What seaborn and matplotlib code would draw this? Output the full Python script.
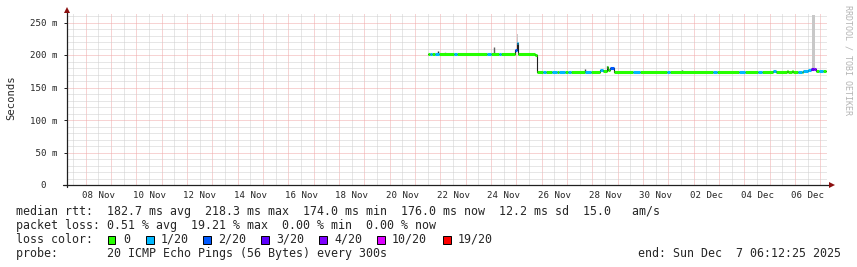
import matplotlib
matplotlib.use("Agg")
import matplotlib.pyplot as plt
import matplotlib.patches as mpatches
import pandas as pd
import seaborn as sns

# ---------------- data ----------------
YEAR = "2025"
axis_start = "11-07 06:12:25"
axis_end = "12-07 06:12:25"

# median RTT as constant steps: start time, value (ms), loss bucket
seg_start = [
    "11-21 12:00", "11-21 14:00", "11-21 16:00", "11-21 19:00", "11-21 22:30",
    "11-22 13:00", "11-22 15:30", "11-23 19:45", "11-23 23:30", "11-24 07:30",
    "11-24 09:30", "11-24 23:00", "11-25 00:30", "11-25 01:30", "11-25 17:30",
    "11-25 19:45", "11-26 01:00", "11-26 04:00", "11-26 09:30", "11-26 14:00",
    "11-26 16:30", "11-26 22:00", "11-27 01:00", "11-27 03:30", "11-27 17:00",
    "11-27 23:00", "11-28 07:00", "11-28 10:00", "11-28 13:30", "11-28 15:00",
    "11-28 17:00", "11-28 20:00", "11-29 14:30", "11-29 21:00", "11-30 22:30",
    "12-01 01:30", "12-02 18:00", "12-02 22:00", "12-03 19:00", "12-04 00:30",
    "12-04 12:45", "12-04 16:30", "12-05 03:00", "12-05 05:45", "12-05 16:00",
    "12-05 17:00", "12-05 21:00", "12-05 22:00", "12-06 02:30", "12-06 06:30",
    "12-06 07:30", "12-06 12:00", "12-06 15:30", "12-06 17:30", "12-06 19:30",
    "12-06 22:30", "12-07 02:30",
]
series_end = "12-07 05:30"
seg_rtt = [
    201.5, 201.5, 201.5, 201.5, 201.5,
    201.5, 201.5, 201.5, 201.5, 201.5,
    201.5, 207.0, 218.3, 201.5, 200.5,
    174.5, 174.0, 174.5, 174.5, 174.5,
    174.5, 174.5, 174.5, 174.5, 174.5,
    174.5, 177.0, 175.5, 181.5, 176.5,
    180.0, 174.5, 174.5, 174.5, 174.5,
    174.5, 174.5, 174.5, 174.5, 174.5,
    174.5, 174.5, 175.0, 174.5, 175.5,
    174.5, 175.5, 174.5, 174.5, 174.5,
    176.0, 177.0, 178.5, 178.5, 176.0,
    176.0, 176.0,
]
seg_loss = [
    "0", "1/20", "0", "1/20", "0",
    "1/20", "0", "1/20", "0", "1/20",
    "0", "2/20", "1/20", "0", "0",
    "0", "1/20", "0", "1/20", "0",
    "1/20", "0", "1/20", "0", "1/20",
    "0", "1/20", "0", "0", "0",
    "2/20", "0", "1/20", "0", "1/20",
    "0", "1/20", "0", "1/20", "0",
    "1/20", "0", "1/20", "0", "0",
    "0", "0", "0", "1/20", "0",
    "1/20", "1/20", "3/20", "4/20", "0",
    "1/20", "0",
]

# smoke (spread of individual pings)
smoke_start = ["11-25 00:45", "12-06 16:00"]
smoke_end = ["11-25 01:30", "12-06 18:50"]
smoke_lo = [218.3, 179.0]
smoke_hi = [233.0, 261.5]

# single short outliers
spike_time = ["11-21 22:00", "11-22 04:30", "11-24 03:00", "11-27 17:00", "11-28 14:00", "12-01 12:30"]
spike_lo = [201.5, 201.5, 201.5, 174.5, 181.5, 174.5]
spike_hi = [206.0, 205.0, 213.0, 178.0, 183.5, 176.5]
spike_shade = ["#303030", "#b8b8b8", "#606060", "#404040", "#202020", "#303030"]

loss_labels = ["0", "1/20", "2/20", "3/20", "4/20", "10/20", "19/20"]
loss_colors = ["#26ff00", "#00b8ff", "#0059ff", "#5e00ff", "#7e00ff", "#dd00ff", "#ff0000"]

ytick_values = [0, 50, 100, 150, 200, 250]
ytick_labels = ["  0", " 50 m", "100 m", "150 m", "200 m", "250 m"]
xtick_labels = ["08 Nov", "10 Nov", "12 Nov", "14 Nov", "16 Nov", "18 Nov", "20 Nov",
                "22 Nov", "24 Nov", "26 Nov", "28 Nov", "30 Nov", "02 Dec", "04 Dec", "06 Dec"]

stat_rtt = "median rtt:  182.7 ms avg  218.3 ms max  174.0 ms min  176.0 ms now  12.2 ms sd  15.0   am/s"
stat_loss = "packet loss: 0.51 % avg  19.21 % max  0.00 % min  0.00 % now"
probe_text = "probe:       20 ICMP Echo Pings (56 Bytes) every 300s"
end_text = "end: Sun Dec  7 06:12:25 2025"
watermark = "RRDTOOL / TOBI OETIKER"


def ts(s):
    return pd.to_datetime(YEAR + "-" + s)


# ---------------- build frames ----------------
starts = [ts(s) for s in seg_start]
ends = starts[1:] + [ts(series_end)]
rows = []
for i, (a, b, v, l) in enumerate(zip(starts, ends, seg_rtt, seg_loss)):
    rows.append({"seg": i, "t": a, "rtt": v, "loss": l})
    rows.append({"seg": i, "t": b, "rtt": v, "loss": l})
seg_df = pd.DataFrame(rows)
step_df = pd.DataFrame({"t": starts + [ts(series_end)], "rtt": seg_rtt + [seg_rtt[-1]]})

# ---------------- figure ----------------
W, H = 857, 267
sns.set_style("white")
plt.rcParams["font.family"] = ["DejaVu Sans Mono"]
fig = plt.figure(figsize=(W / 100, H / 100), dpi=100)
fig.patch.set_facecolor("white")

L, R, B, T = 67, 827, 185, 13
ax = fig.add_axes([L / W, (H - B) / H, (R - L) / W, (B - T) / H])
ax.set_facecolor("white")

x0, x1 = ts(axis_start), ts(axis_end)
ymax = (B - T) / 0.65
ax.set_xlim(x0, x1)
ax.set_ylim(0, ymax)

# grid
grid_dash = (0, (1, 1))
minor_col, major_col = "#cfcfcf", "#f0a8a8"
days = pd.date_range(ts("11-08 00:00"), ts("12-07 00:00"), freq="D")
noons = pd.date_range(ts("11-07 12:00"), ts("12-06 12:00"), freq="D")
ax.vlines(noons, 0, ymax, colors=minor_col, linestyles=grid_dash, lw=0.72, zorder=0)
ax.vlines(days, 0, ymax, colors=major_col, linestyles=grid_dash, lw=0.72, zorder=0)
minor_y = [v for v in range(10, 265, 10) if v % 50]
ax.hlines(minor_y, x0, x1, colors=minor_col, linestyles=grid_dash, lw=0.72, zorder=0)
ax.hlines([50, 100, 150, 200, 250], x0, x1, colors=major_col, linestyles=grid_dash, lw=0.72, zorder=0)

# smoke
for a, b, lo, hi in zip(smoke_start, smoke_end, smoke_lo, smoke_hi):
    ax.fill_between([ts(a), ts(b)], [lo, lo], [hi, hi], color="#c8c8c8", lw=0, zorder=1)
ax.vlines([ts(s) for s in spike_time], spike_lo, spike_hi, colors=spike_shade, lw=1.0, zorder=2)

# median: dark connector then loss-coloured thick line
sns.lineplot(data=step_df, x="t", y="rtt", estimator=None, drawstyle="steps-post",
             color="#202020", linewidth=0.8, ax=ax, zorder=3)
sns.lineplot(data=seg_df, x="t", y="rtt", hue="loss", units="seg", estimator=None,
             hue_order=loss_labels, palette=dict(zip(loss_labels, loss_colors)),
             linewidth=2.2, legend=False, ax=ax, zorder=4, solid_capstyle="butt")

ax.set_xlabel("")
ax.set_ylabel("")
for s in ax.spines.values():
    s.set_visible(False)

# axes lines and arrows
ax.plot([0, 0], [-2 / (B - T), 1 + 2 / (B - T)], transform=ax.transAxes, color="#202020",
        lw=0.9, clip_on=False, zorder=5)
ax.plot([-4 / (R - L), 1 + 3 / (R - L)], [0, 0], transform=ax.transAxes, color="#202020",
        lw=0.9, clip_on=False, zorder=5)
ax.plot([0], [1 + 3.5 / (B - T)], marker="^", ms=4.5, color="#8b0f0f", transform=ax.transAxes,
        clip_on=False, zorder=6, mew=0)
ax.plot([1 + 5 / (R - L)], [0], marker=">", ms=4.5, color="#8b0f0f", transform=ax.transAxes,
        clip_on=False, zorder=6, mew=0)

# y ticks
ax.set_yticks(ytick_values)
ax.set_yticklabels(ytick_labels)
ax.tick_params(axis="y", direction="out", length=2.5, width=0.7, color="#202020",
               labelsize=6.6, pad=(L - 30) * 0.72 - 2.5, left=True)
for lab in ax.get_yticklabels():
    lab.set_horizontalalignment("left")
    lab.set_fontfamily("DejaVu Sans Mono")

# x labels at noon of labelled days
ax.set_xticks([])
for lbl in xtick_labels:
    pos = pd.to_datetime(YEAR + " " + lbl, format="%Y %d %b") + pd.Timedelta(hours=12)
    ax.text(pos, -(198.5 - B) / (B - T), lbl, transform=ax.get_xaxis_transform(),
            ha="center", va="baseline", fontsize=6.6, family="DejaVu Sans Mono")

# y axis title & watermark
fig.text(11 / W, 1 - 98 / H, "Seconds", rotation=90, ha="center", va="center",
         fontsize=7.6, family="DejaVu Sans Mono")
fig.text(848 / W, 1 - 60 / H, watermark, rotation=-90, ha="center", va="center",
         fontsize=6.0, family="DejaVu Sans Mono", color="#b4b4b4")

# legend / stats
FS = 8.4


def ftext(x, y, s, **kw):
    fig.text(x / W, 1 - y / H, s, fontsize=FS, family="DejaVu Sans Mono", va="baseline", **kw)


ftext(16, 215, stat_rtt)
ftext(16, 229, stat_loss)
ftext(16, 243, "loss color:")
ftext(16, 257, probe_text)
ftext(841, 257, end_text, ha="right")

box_x = [108, 146, 203, 261, 319, 377, 443]
for bx, lbl, col in zip(box_x, loss_labels, loss_colors):
    fig.patches.append(mpatches.Rectangle((bx / W, 1 - 243.5 / H), 7.5 / W, 8 / H,
                                          transform=fig.transFigure, facecolor=col,
                                          edgecolor="black", lw=0.7, figure=fig))
    ftext(bx + 15, 243, lbl)

fig.savefig("out.png", dpi=100, facecolor="white")
